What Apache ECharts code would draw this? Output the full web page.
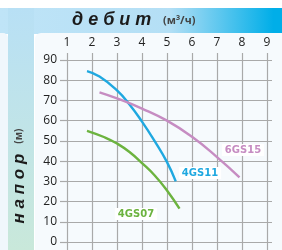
<!DOCTYPE html>
<html>
<head>
<meta charset="utf-8">
<script src="https://cdn.jsdelivr.net/npm/echarts@6/dist/echarts.min.js"></script>
<style>
  html, body { margin: 0; padding: 0; background: #fff; }
  #chart { width: 282px; height: 250px; }
</style>
</head>
<body>
<div id="chart"></div>
<script>
// flow, m3/h -> head, m
const flowTicks = [1, 2, 3, 4, 5, 6, 7, 8, 9]
const headTicks = [0, 10, 20, 30, 40, 50, 60, 70, 80, 90]

const names = ['4GS07', '4GS11', '6GS15']
const colors = ['#6cb33f', '#1fa8e0', '#c68cc2']

const flow4GS07 = [1.8, 2.5, 3.0, 3.5, 4.0, 4.5, 5.0, 5.5]
const head4GS07 = [55, 51.8, 48.7, 44.5, 39, 33, 25.5, 16.5]

const flow4GS11 = [1.8, 2.3, 3.0, 3.5, 4.0, 4.5, 5.0, 5.35]
const head4GS11 = [84.5, 81.8, 75, 68, 59.5, 50, 39.5, 30]

const flow6GS15 = [2.3, 3.0, 4.0, 5.0, 6.0, 7.0, 7.9]
const head6GS15 = [74, 71, 66, 60, 52, 42, 32]

const curves = [
  [flow4GS07, head4GS07],
  [flow4GS11, head4GS11],
  [flow6GS15, head6GS15],
]

const chart = echarts.init(document.getElementById('chart'))

const font = 'Open Sans'

const curveLabel = (text, x, y, color) => ({
  type: 'text', z: 10, x: x, y: y,
  style: {
    text: text, align: 'center', verticalAlign: 'middle',
    font: 'bold 10px "DejaVu Sans"', fill: color,
    backgroundColor: '#ffffff', padding: [1, 3, 1, 3],
  },
})

chart.setOption({
  animation: false,
  graphic: [
    // header band
    {
      type: 'rect', z: -20, silent: true,
      shape: { x: 0, y: 8, width: 282, height: 26 },
      style: {
        fill: new echarts.graphic.LinearGradient(0, 0, 1, 0, [
          { offset: 0, color: '#bfe4f7' },
          { offset: 0.6, color: '#b4dff5' },
          { offset: 0.97, color: '#00aee8' },
          { offset: 1, color: '#00aee8' },
        ]),
      },
    },
    // left band
    {
      type: 'rect', z: -20, silent: true,
      shape: { x: 8, y: 8, width: 26, height: 242 },
      style: {
        fill: new echarts.graphic.LinearGradient(0, 0, 0, 1, [
          { offset: 0, color: '#b8e0f5' },
          { offset: 1, color: '#c9e8da' },
        ]),
      },
    },
    {
      type: 'rect', z: -19, silent: true,
      shape: { x: -10, y: 33, width: 18, height: 230, r: 5 },
      style: { fill: '#f0f7fc' },
    },
    {
      type: 'rect', z: -19, silent: true,
      shape: { x: 35, y: 33, width: 260, height: 230, r: 6 },
      style: { fill: '#f6fafd' },
    },
    {
      type: 'text', z: 10, x: 72, y: 20,
      style: {
        text: 'д е б и т', verticalAlign: 'middle',
        fontSize: 18, fontWeight: 'bold', fontStyle: 'italic',
        fontFamily: 'Liberation Sans', fill: '#1b1b1b',
      },
    },
    {
      type: 'text', z: 10, x: 163, y: 21,
      style: {
        text: '(м³/ч)', verticalAlign: 'middle',
        fontSize: 11, fontWeight: 'bold', fontFamily: 'Noto Sans', fill: '#444',
      },
    },
    {
      type: 'text', z: 10, x: 19, y: 176, rotation: Math.PI / 2,
      style: {
        text: '{a|н а п о р}   {b|(м)}',
        align: 'center', verticalAlign: 'middle',
        fill: '#1b1b1b',
        rich: {
          a: { fontSize: 17, fontWeight: 'bold', fontStyle: 'italic', fontFamily: 'Liberation Sans', fill: '#1b1b1b' },
          b: { fontSize: 10, fontWeight: 'bold', fontFamily: 'Noto Sans', fill: '#444' },
        },
      },
    },
    curveLabel(names[2], 243, 150, colors[2]),
    curveLabel(names[1], 200, 173, colors[1]),
    curveLabel(names[0], 136, 214, colors[0]),
  ],
  grid: [
    { left: 67, top: 60, width: 205, height: 182 },
    { left: 67, top: 53, width: 200, bottom: 0 },
  ],
  xAxis: [
    {
      gridIndex: 0, type: 'value', min: 1, max: 9.2, show: false,
    },
    {
      gridIndex: 1, type: 'value', position: 'top',
      min: flowTicks[0], max: flowTicks[flowTicks.length - 1], interval: 1,
      axisLine: { show: false },
      axisTick: { show: false },
      axisLabel: { margin: 4, fontSize: 12, color: '#222', fontFamily: font },
      splitLine: { show: true, lineStyle: { color: '#a9a9a9', width: 1.2 } },
    },
  ],
  yAxis: [
    {
      gridIndex: 0, type: 'value',
      min: headTicks[0], max: headTicks[headTicks.length - 1], interval: 10,
      axisLine: { show: false },
      axisTick: { show: true, length: 7, lineStyle: { color: '#a9a9a9', width: 1.2 } },
      axisLabel: { margin: 10, fontSize: 12, color: '#222', fontFamily: font },
      splitLine: { show: true, lineStyle: { color: '#a9a9a9', width: 1.2 } },
    },
    {
      gridIndex: 1, type: 'value', show: false,
    },
  ],
  series: curves.map((c, i) => ({
    name: names[i],
    type: 'line',
    xAxisIndex: 0,
    yAxisIndex: 0,
    smooth: true,
    showSymbol: false,
    lineStyle: { color: colors[i], width: 2.4 },
    data: c[0].map((x, k) => [x, c[1][k]]),
    z: 5,
  })),
})
</script>
</body>
</html>
